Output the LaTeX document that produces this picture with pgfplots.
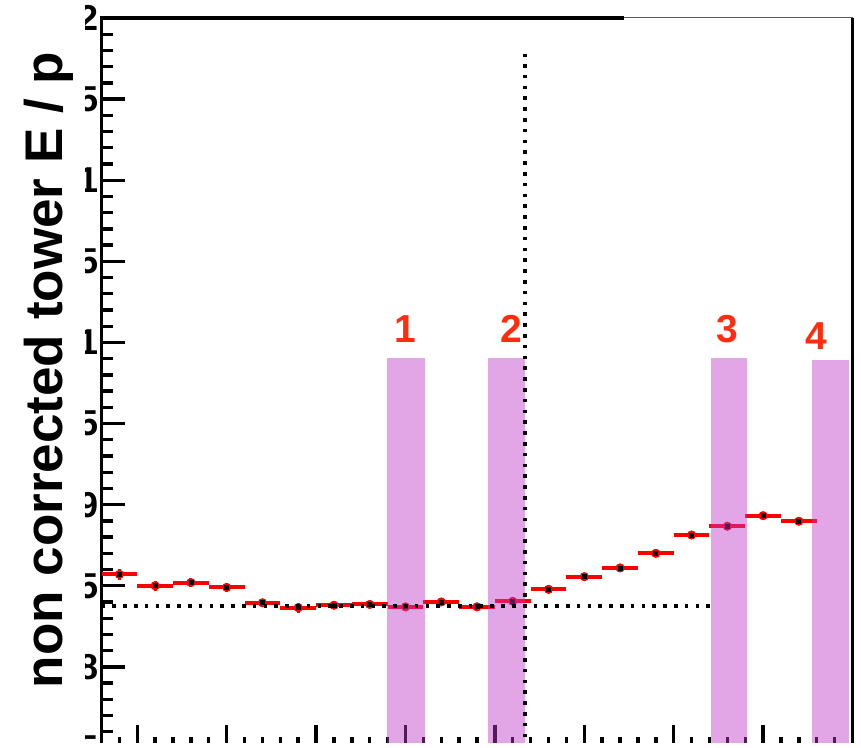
\documentclass[border=0pt]{standalone}
\usepackage{fontspec}
\setmainfont{Liberation Sans}
\usepackage{pgfplots}
\usepackage{pgfplotstable}
\pgfplotsset{compat=1.18}
\definecolor{bandcol}{RGB}{190,55,198}
\definecolor{numred}{RGB}{255,45,15}
\pgfplotstableread{
x    y       ex   ey
0.5  0.8570  0.5  0.0035
1.5  0.8500  0.5  0.0030
2.5  0.8520  0.5  0.0030
3.5  0.8490  0.5  0.0030
4.5  0.8395  0.5  0.0020
5.5  0.8365  0.5  0.0030
6.5  0.8380  0.5  0.0020
7.5  0.8385  0.5  0.0020
8.5  0.8370  0.5  0.0020
9.5  0.8400  0.5  0.0020
10.5 0.8370  0.5  0.0020
11.5 0.8404  0.5  0.0020
12.5 0.8478  0.5  0.0015
13.5 0.8556  0.5  0.0015
14.5 0.8610  0.5  0.0015
15.5 0.8700  0.5  0.0015
16.5 0.8813  0.5  0.0015
17.5 0.8867  0.5  0.0015
18.5 0.8932  0.5  0.0015
19.5 0.8898  0.5  0.0015
}\datatab
\begin{document}
\begin{tikzpicture}
\begin{scope}
\clip (0pt,2.5pt) rectangle (430.5pt,374pt);
\begin{axis}[
  at={(50.75pt,0pt)}, anchor=south west,
  scale only axis, width=375.5pt, height=365pt,
  xmin=0, xmax=21, ymin=0.75, ymax=1.2,
  axis line style={draw=none},
  clip mode=individual,
  tick pos=left, tick align=inside,
  xtick={1,3.5,6,8.5,11,13.5,16,18.5,21},
  minor xtick={0.5,1,...,21},
  xticklabels={},
  ytick={0.75,0.8,0.85,0.9,0.95,1,1.05,1.1,1.15,1.2},
  yticklabels={0.75,0.8,0.85,0.9,0.95,1,1.05,1.1,1.15,1.2},
  minor y tick num=4,
  major tick length=11.5pt, minor tick length=5.5pt,
  tick style={black, line width=1.7pt},
  major tick style={line width=1.7pt},
  minor tick style={line width=1.7pt},
  yticklabel style={font=\fontsize{18}{18}\selectfont\bfseries, inner sep=0pt, xshift=-1.5pt},
]
% frame
\draw[line width=1.9pt] (rel axis cs:0,0) -- (rel axis cs:0,1) -- (axis cs:14.62,1.2);
\draw[gray!70!black, line width=0.5pt] (axis cs:14.62,1.2) -- (rel axis cs:1,1);
\draw[line width=1.9pt] (rel axis cs:1,1) -- (rel axis cs:1,0) -- (rel axis cs:0,0);
% data: vertical errors
\addplot[red, only marks, mark=none, error bars/.cd, y dir=both, y explicit,
  error bar style={red, line width=1.5pt, solid}, error mark=none]
  table[x=x, y=y, y error=ey] {\datatab};
% data: bin widths
\addplot[red, only marks, mark=none, error bars/.cd, x dir=both, x explicit,
  error bar style={red, line width=2pt, solid}, error mark=none]
  table[x=x, y=y, x error=ex] {\datatab};
% data: markers
\addplot[only marks, mark=square*, mark size=1pt, mark options={black, fill=black, solid}]
  table[x=x, y=y] {\datatab};
% bands
\addplot[draw=none, fill=bandcol, fill opacity=0.45] coordinates {(7.99,0.75) (9.05,0.75) (9.05,0.9906) (7.99,0.9906)} -- cycle;
\addplot[draw=none, fill=bandcol, fill opacity=0.45] coordinates {(10.81,0.75) (11.85,0.75) (11.85,0.9906) (10.81,0.9906)} -- cycle;
\addplot[draw=none, fill=bandcol, fill opacity=0.45] coordinates {(17.03,0.75) (18.05,0.75) (18.05,0.9906) (17.03,0.9906)} -- cycle;
\addplot[draw=none, fill=bandcol, fill opacity=0.45] coordinates {(19.87,0.75) (20.91,0.75) (20.91,0.9893) (19.87,0.9893)} -- cycle;
% dotted reference lines
\addplot[black, line width=1.8pt, dash pattern=on 1.8pt off 3.6pt] coordinates {(0,0.8377) (17.02,0.8377)};
\addplot[black, line width=1.8pt, dash pattern=on 1.8pt off 3.6pt] coordinates {(11.85,0.75) (11.85,1.178)};
% band numbers
\node[text=numred, font=\fontsize{19.5}{19.5}\selectfont\bfseries] at (axis cs:8.49,1.0085) {1};
\node[text=numred, font=\fontsize{19.5}{19.5}\selectfont\bfseries] at (axis cs:11.45,1.0085) {2};
\node[text=numred, font=\fontsize{19.5}{19.5}\selectfont\bfseries] at (axis cs:17.5,1.0085) {3};
\node[text=numred, font=\fontsize{19.5}{19.5}\selectfont\bfseries] at (axis cs:20.0,1.004) {4};
\end{axis}
\fill[white] (0pt,0pt) rectangle (42.5pt,374pt);
\node[rotate=90, anchor=base, font=\fontsize{26.5}{26.5}\selectfont\bfseries] at (31pt,189pt) {non corrected tower E / p};
\end{scope}
\pgfresetboundingbox
\useasboundingbox (0pt,0pt) rectangle (430.5pt,374pt);
\end{tikzpicture}
\end{document}
